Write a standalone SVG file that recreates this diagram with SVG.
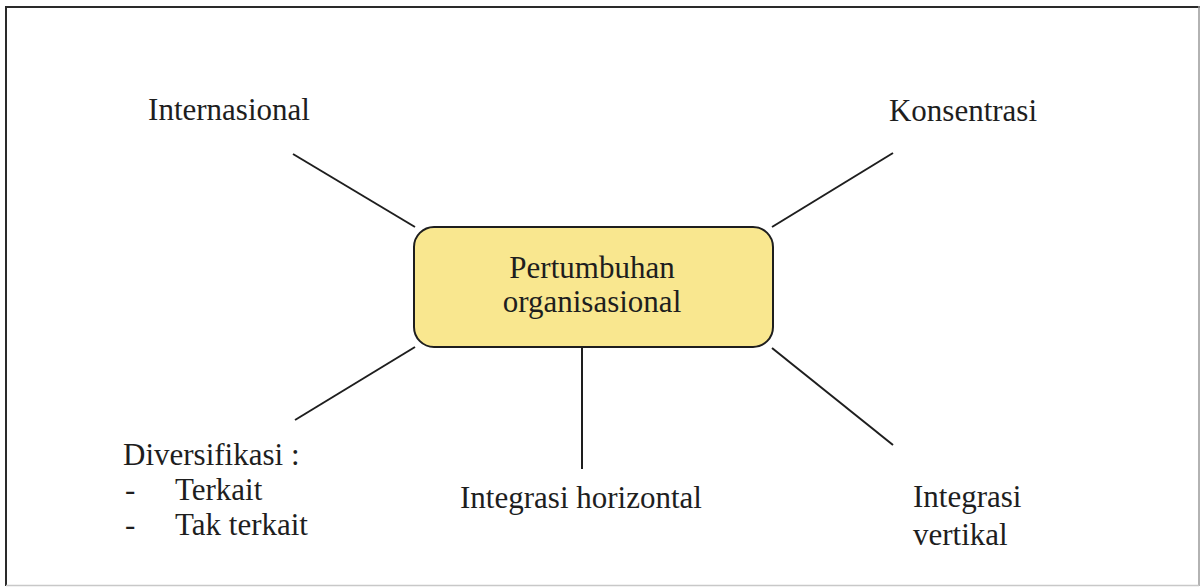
<svg xmlns="http://www.w3.org/2000/svg" width="1204" height="587" viewBox="0 0 1204 587">
<style>
.t{font-family:"Liberation Serif","Times New Roman",serif;font-size:31px;fill:#1e1e1e}
.c{stroke:#1e1e1e;stroke-width:2;fill:none}
</style>
<rect x="0" y="0" width="1204" height="587" fill="#ffffff"/>
<g id="frame">
<line x1="5" y1="7" x2="1200" y2="7" stroke="#2a2a2a" stroke-width="2"/>
<line x1="6" y1="6" x2="6" y2="586" stroke="#2a2a2a" stroke-width="2"/>
<line x1="1199" y1="6" x2="1199" y2="586" stroke="#9a9a9a" stroke-width="1.5"/>
<line x1="6" y1="585.5" x2="1199" y2="585.5" stroke="#c8c8c8" stroke-width="1.5"/>
</g>
<g id="connectors">
<line class="c" x1="293" y1="154" x2="415" y2="227"/>
<line class="c" x1="893" y1="153" x2="772" y2="227"/>
<line class="c" x1="415" y1="347" x2="295" y2="420"/>
<line class="c" x1="772" y1="348" x2="893" y2="445"/>
<line class="c" x1="582" y1="348" x2="582" y2="469"/>
</g>
<g id="center">
<rect x="414" y="227" width="359" height="120" rx="20" ry="20" fill="#f9e78f" stroke="#1e1e1e" stroke-width="2"/>
<text class="t" x="592" y="278" text-anchor="middle">Pertumbuhan</text>
<text class="t" x="592" y="312" text-anchor="middle">organisasional</text>
</g>
<g id="internasional">
<text class="t" x="229" y="120" text-anchor="middle">Internasional</text>
</g>
<g id="konsentrasi">
<text class="t" x="963" y="121" text-anchor="middle">Konsentrasi</text>
</g>
<g id="diversifikasi">
<text class="t" x="123" y="465">Diversifikasi :</text>
<text class="t" x="125" y="500">-</text>
<text class="t" x="175" y="500">Terkait</text>
<text class="t" x="125" y="535">-</text>
<text class="t" x="175" y="535">Tak terkait</text>
</g>
<g id="horizontal">
<text class="t" x="581" y="508" text-anchor="middle">Integrasi horizontal</text>
</g>
<g id="vertikal">
<text class="t" x="913" y="507">Integrasi</text>
<text class="t" x="913" y="545">vertikal</text>
</g>
</svg>
